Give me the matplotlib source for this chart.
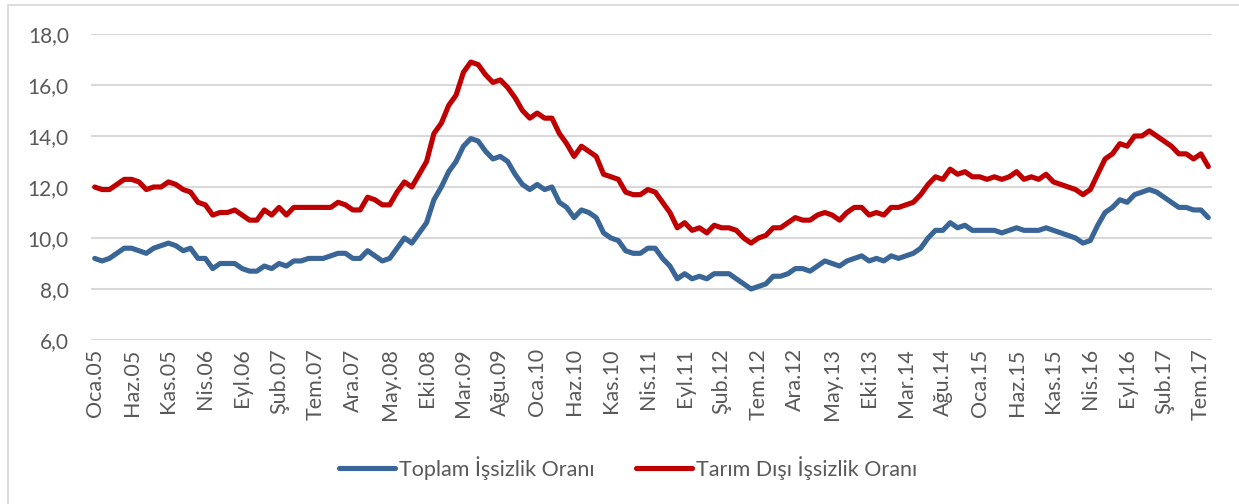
import matplotlib
matplotlib.use("Agg")
import matplotlib.pyplot as plt
from matplotlib.patches import Rectangle

# ---- data ----
month_abbr = ["Oca", "Şub", "Mar", "Nis", "May", "Haz", "Tem", "Ağu", "Eyl", "Eki", "Kas", "Ara"]
start_year = 2005
n_months = 152

toplam = [
    9.2, 9.1, 9.2, 9.4, 9.6, 9.6, 9.5, 9.4, 9.6, 9.7, 9.8, 9.7, 9.5, 9.6, 9.2, 9.2, 8.8, 9.0, 9.0, 9.0, 8.8, 8.7,
    8.7, 8.9, 8.8, 9.0, 8.9, 9.1, 9.1, 9.2, 9.2, 9.2, 9.3, 9.4, 9.4, 9.2, 9.2, 9.5, 9.3, 9.1, 9.2, 9.6, 10.0, 9.8,
    10.2, 10.6, 11.5, 12.0, 12.6, 13.0, 13.6, 13.9, 13.8, 13.4, 13.1, 13.2, 13.0, 12.5, 12.1, 11.9, 12.1, 11.9, 12.0, 11.4, 11.2,
    10.8, 11.1, 11.0, 10.8, 10.2, 10.0, 9.9, 9.5, 9.4, 9.4, 9.6, 9.6, 9.2, 8.9, 8.4, 8.6, 8.4, 8.5, 8.4, 8.6, 8.6,
    8.6, 8.4, 8.2, 8.0, 8.1, 8.2, 8.5, 8.5, 8.6, 8.8, 8.8, 8.7, 8.9, 9.1, 9.0, 8.9, 9.1, 9.2, 9.3, 9.1, 9.2, 9.1,
    9.3, 9.2, 9.3, 9.4, 9.6, 10.0, 10.3, 10.3, 10.6, 10.4, 10.5, 10.3, 10.3, 10.3, 10.3, 10.2, 10.3, 10.4, 10.3, 10.3, 10.3,
    10.4, 10.3, 10.2, 10.1, 10.0, 9.8, 9.9, 10.5, 11.0, 11.2, 11.5, 11.4, 11.7, 11.8, 11.9, 11.8, 11.6, 11.4, 11.2, 11.2, 11.1, 11.1, 10.8,
]

tarim_disi = [
    12.0, 11.9, 11.9, 12.1, 12.3, 12.3, 12.2, 11.9, 12.0, 12.0, 12.2, 12.1, 11.9, 11.8, 11.4, 11.3, 10.9, 11.0, 11.0, 11.1, 10.9, 10.7,
    10.7, 11.1, 10.9, 11.2, 10.9, 11.2, 11.2, 11.2, 11.2, 11.2, 11.2, 11.4, 11.3, 11.1, 11.1, 11.6, 11.5, 11.3, 11.3, 11.8, 12.2, 12.0,
    12.5, 13.0, 14.1, 14.5, 15.2, 15.6, 16.5, 16.9, 16.8, 16.4, 16.1, 16.2, 15.9, 15.5, 15.0, 14.7, 14.9, 14.7, 14.7, 14.1, 13.7,
    13.2, 13.6, 13.4, 13.2, 12.5, 12.4, 12.3, 11.8, 11.7, 11.7, 11.9, 11.8, 11.4, 11.0, 10.4, 10.6, 10.3, 10.4, 10.2, 10.5, 10.4,
    10.4, 10.3, 10.0, 9.8, 10.0, 10.1, 10.4, 10.4, 10.6, 10.8, 10.7, 10.7, 10.9, 11.0, 10.9, 10.7, 11.0, 11.2, 11.2, 10.9, 11.0, 10.9,
    11.2, 11.2, 11.3, 11.4, 11.7, 12.1, 12.4, 12.3, 12.7, 12.5, 12.6, 12.4, 12.4, 12.3, 12.4, 12.3, 12.4, 12.6, 12.3, 12.4, 12.3,
    12.5, 12.2, 12.1, 12.0, 11.9, 11.7, 11.9, 12.5, 13.1, 13.3, 13.7, 13.6, 14.0, 14.0, 14.2, 14.0, 13.8, 13.6, 13.3, 13.3, 13.1, 13.3, 12.8,
]

series_names = ["Toplam İşsizlik Oranı", "Tarım Dışı İşsizlik Oranı"]
y_ticks = [6, 8, 10, 12, 14, 16, 18]
tick_step = 5

categories = [f"{month_abbr[k % 12]}.{(start_year + k // 12) % 100:02d}" for k in range(n_months)]

# ---- style ----
plt.rcParams['font.family'] = ['Lato', 'DejaVu Sans']
txt_color = "#595959"
grid_color = "#D9D9D9"
blue = "#3A6597"
red = "#C00000"

W, H = 1239, 504
fig = plt.figure(figsize=(W / 100, H / 100), dpi=100)

# chart border
fig.patches.append(Rectangle((8 / W, -0.05), 1.2, 1 - 5 / H + 0.05, transform=fig.transFigure,
                             fill=False, edgecolor=grid_color, linewidth=1.3))

left, right, top, bottom = 91, 1212, 34, 340
ax = fig.add_axes([left / W, 1 - bottom / H, (right - left) / W, (bottom - top) / H])

x = list(range(n_months))
ax.plot(x, toplam, color=blue, lw=3.7, solid_joinstyle='round', solid_capstyle='round',
        label=series_names[0], zorder=3)
ax.plot(x, tarim_disi, color=red, lw=3.7, solid_joinstyle='round', solid_capstyle='round',
        label=series_names[1], zorder=3)

ax.set_xlim(-0.5, n_months - 0.5)
ax.set_ylim(6, 18)
ax.set_yticks(y_ticks)
ax.set_yticklabels([f"{v:.1f}".replace(".", ",") for v in y_ticks], color=txt_color, fontsize=15)
ax.yaxis.grid(True, color=grid_color, linewidth=1.5)
ax.set_axisbelow(True)

tick_pos = x[::tick_step]
ax.set_xticks(tick_pos)
ax.set_xticklabels([categories[p] for p in tick_pos], rotation=90, color=txt_color, fontsize=15.5)

for s in ax.spines.values():
    s.set_visible(False)
ax.tick_params(axis='both', length=0)
ax.tick_params(axis='y', pad=16)
ax.tick_params(axis='x', pad=6)

fig.legend(loc='center', bbox_to_anchor=(628 / W, 1 - 468 / H), ncol=2, frameon=False,
           fontsize=15.5, handlelength=2.6, handletextpad=0.2, columnspacing=1.9,
           labelcolor=txt_color)

fig.savefig("out.png", dpi=100)
